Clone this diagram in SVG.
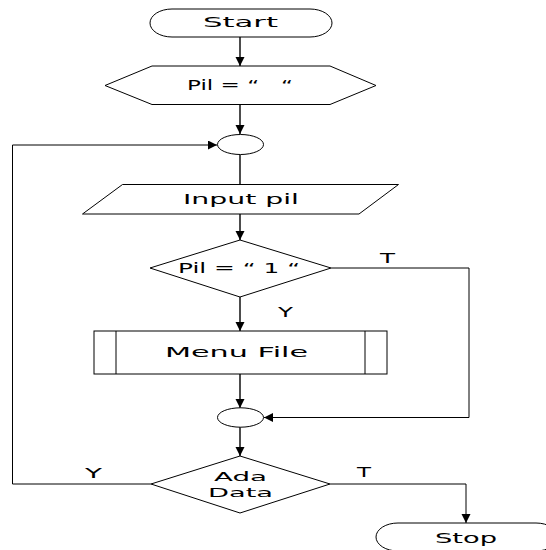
<svg xmlns="http://www.w3.org/2000/svg" width="546" height="550" viewBox="0 0 546 550">
<style>
.shape{fill:#fff;stroke:#000;stroke-width:1}
.lbl{font-family:"DejaVu Sans","Liberation Sans",sans-serif;font-size:14px;fill:#000}
.pre{white-space:pre}
.sm{font-size:13px}
.c{fill:none;stroke:#000;stroke-width:1.4}
.cl{fill:none;stroke:#000;stroke-width:1}
</style>
<defs>
<marker id="arr" markerUnits="userSpaceOnUse" markerWidth="10" markerHeight="10" refX="9" refY="4.5" orient="auto">
<path d="M0,0 L9,4.5 L0,9 z" fill="#000"/>
</marker>
</defs>
<rect width="546" height="550" fill="#fff"/>
<g id="connectors">
<line class="c" x1="240" y1="37" x2="240" y2="66" marker-end="url(#arr)"/>
<line class="c" x1="240" y1="104" x2="240" y2="134" marker-end="url(#arr)"/>
<line class="c" x1="240" y1="155" x2="240" y2="193" marker-end="url(#arr)"/>
<line class="c" x1="240" y1="214" x2="240" y2="240" marker-end="url(#arr)"/>
<line class="c" x1="240" y1="297" x2="240" y2="331" marker-end="url(#arr)"/>
<line class="c" x1="240" y1="374" x2="240" y2="408" marker-end="url(#arr)"/>
<line class="c" x1="240" y1="427" x2="240" y2="456" marker-end="url(#arr)"/>
<polyline class="cl" points="331,268 469,268 469,417.5 264,417.5" marker-end="url(#arr)"/>
<polyline class="cl" points="151,484 12.5,484 12.5,145 217,145" marker-end="url(#arr)"/>
<polyline class="cl" points="330,484 466,484 466,523" marker-end="url(#arr)"/>
<text class="lbl" x="380" y="263" textLength="15" lengthAdjust="spacingAndGlyphs">T</text>
<text class="lbl" x="278" y="317" textLength="15" lengthAdjust="spacingAndGlyphs">Y</text>
<text class="lbl" x="85" y="478" textLength="17" lengthAdjust="spacingAndGlyphs">Y</text>
<text class="lbl" x="357" y="477" textLength="14" lengthAdjust="spacingAndGlyphs">T</text>
</g>
<g id="start">
<rect class="shape" x="150" y="9" width="182" height="28" rx="22" ry="14"/>
<text class="lbl" x="203" y="27" textLength="75" lengthAdjust="spacingAndGlyphs">Start</text>
</g>
<g id="init">
<polygon class="shape" points="105,85.5 152,66 330,66 376,85.5 330,104.5 152,104.5"/>
<text class="lbl pre" x="187" y="90" textLength="106" lengthAdjust="spacingAndGlyphs">Pil = “   “</text>
</g>
<g id="conn1">
<ellipse class="shape" cx="240.5" cy="144.5" rx="23" ry="10"/>
</g>
<g id="input">
<polygon class="shape" points="122.5,184.5 398.5,184.5 359,214 82.5,214"/>
<text class="lbl" x="183" y="204" textLength="116" lengthAdjust="spacingAndGlyphs">Input pil</text>
</g>
<g id="dec1">
<polygon class="shape" points="240,240 331,268 240,297 150,268"/>
<text class="lbl pre" x="178" y="273" textLength="122" lengthAdjust="spacingAndGlyphs">Pil = “ 1 “</text>
</g>
<g id="menu">
<rect class="shape" x="94" y="331" width="293" height="43"/>
<line class="cl" x1="116" y1="331" x2="116" y2="374"/>
<line class="cl" x1="365" y1="331" x2="365" y2="374"/>
<text class="lbl" x="165" y="357" textLength="143" lengthAdjust="spacingAndGlyphs">Menu File</text>
</g>
<g id="conn2">
<ellipse class="shape" cx="240.5" cy="417.5" rx="23" ry="9.7"/>
</g>
<g id="dec2">
<polygon class="shape" points="240,456 330,484 240,513 151,484"/>
<text class="lbl sm" x="214" y="481" textLength="53" lengthAdjust="spacingAndGlyphs">Ada</text>
<text class="lbl sm" x="208" y="497" textLength="65" lengthAdjust="spacingAndGlyphs">Data</text>
</g>
<g id="stop">
<rect class="shape" x="376" y="523" width="182" height="28" rx="22" ry="14"/>
<text class="lbl" x="435" y="543" textLength="62" lengthAdjust="spacingAndGlyphs">Stop</text>
</g>
</svg>
